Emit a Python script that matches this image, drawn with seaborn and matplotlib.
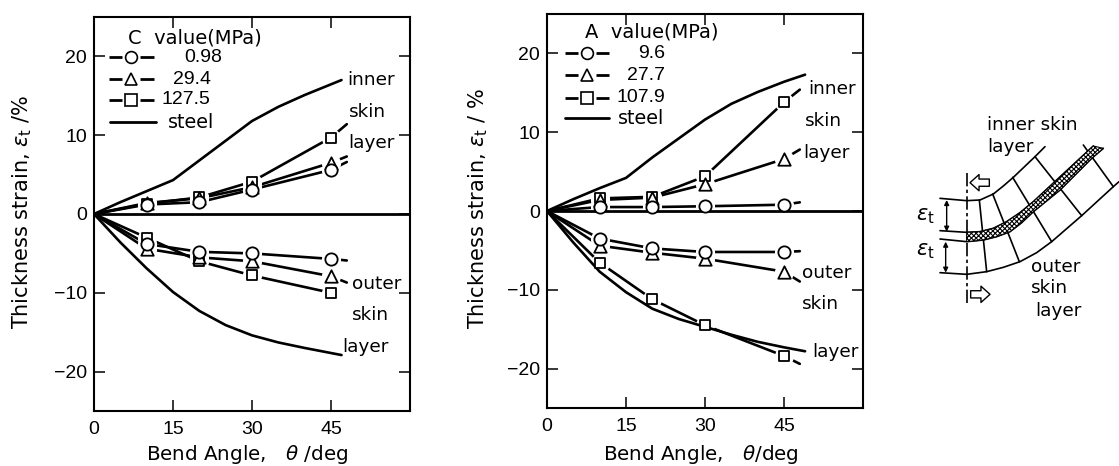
# %%
import numpy as np
import pandas as pd
import seaborn as sns
import matplotlib.pyplot as plt
from matplotlib.patches import Polygon

# %% data
angle = [0, 10, 20, 30, 45, 48]
steel_angle_l = [0, 5, 10, 15, 20, 25, 30, 35, 40, 47]
steel_inner_l = [0, 1.5, 2.9, 4.3, 6.8, 9.3, 11.8, 13.6, 15.1, 17.0]
steel_outer_l = [0, -3.6, -6.9, -9.9, -12.3, -14.1, -15.4, -16.3, -17.0, -17.9]
steel_angle_r = [0, 5, 10, 15, 20, 25, 30, 35, 40, 45, 49]
steel_inner_r = [0, 1.5, 2.9, 4.2, 6.8, 9.2, 11.6, 13.6, 15.1, 16.4, 17.3]
steel_outer_r = [0, -4.0, -7.7, -10.3, -12.4, -13.7, -14.7, -15.7, -16.6, -17.3, -17.8]

c_labels = ['0.98', '29.4', '127.5']
c_inner = [[0, 1.2, 1.5, 3.1, 5.6, 6.6],
           [0, 1.4, 2.0, 3.4, 6.5, 7.3],
           [0, 1.3, 2.1, 4.1, 9.7, 11.4]]
c_outer = [[0, -3.8, -4.8, -5.0, -5.7, -5.9],
           [0, -4.4, -5.5, -6.0, -7.9, -8.7],
           [0, -3.0, -6.0, -7.8, -10.0, np.nan]]

a_labels = ['9.6', '27.7', '107.9']
a_inner = [[0, 0.5, 0.5, 0.6, 0.8, 1.1],
           [0, 1.4, 1.7, 3.4, 6.6, 7.8],
           [0, 1.6, 1.8, 4.4, 13.8, 15.4]]
a_outer = [[0, -3.5, -4.75, -5.2, -5.2, -5.1],
           [0, -4.4, -5.3, -6.05, -7.7, -8.95],
           [0, -6.55, -11.2, -14.5, -18.4, -19.4]]

x_ticks = [0, 15, 30, 45]
y_ticks = [-20, -10, 0, 10, 20]
markers = ['o', '^', 's']
marker_area = {'o': 78, '^': 80, 's': 60}
W, H = 1119, 466


# %%
def draw_panel(ax, inner, outer, s_angle, s_inner, s_outer):
    for vals_i, vals_o in zip(inner, outer):
        for vals in (vals_i, vals_o):
            df = pd.DataFrame({'x': angle, 'y': vals})
            sns.lineplot(data=df.dropna(), x='x', y='y', color='k', lw=1.9, sort=False,
                         errorbar=None, ax=ax, zorder=2)
            sns.scatterplot(data=df.iloc[1:5], x='x', y='y', marker='o', s=190, color='white',
                            linewidth=0, ax=ax, zorder=3)
    for vals in (s_inner, s_outer):
        sns.lineplot(x=s_angle, y=vals, color='k', lw=1.9, errorbar=None, ax=ax, zorder=4)
    ax.axhline(0, color='k', lw=2, zorder=4)
    # squares first, circles end up on top as in the figure
    for i in (2, 1, 0):
        m = markers[i]
        for vals in (inner[i], outer[i]):
            pts = pd.DataFrame({'x': angle, 'y': vals}).iloc[1:5]
            sns.scatterplot(data=pts, x='x', y='y', marker=m, s=marker_area[m], facecolor='white',
                            edgecolor='k', linewidth=1.3, ax=ax, zorder=5 + (2 - i))
    ax.set_xlim(0, 60)
    ax.set_ylim(-25, 25)
    ax.set_xticks(x_ticks)
    ax.set_yticks(y_ticks)
    ax.set_xlabel('')
    ax.set_ylabel('')
    ax.tick_params(axis='x', direction='in', top=True, length=8, width=1.1, pad=7, labelsize=14)
    ax.tick_params(axis='y', direction='in', right=True, length=8, width=1.1, pad=5, labelsize=14)
    for sp in ax.spines.values():
        sp.set_visible(True)
        sp.set_linewidth(1.5)
    for lab in ax.get_xticklabels() + ax.get_yticklabels():
        lab.set_family('Liberation Sans')


def pixel_axes(fig, x0, y0, x1, y1):
    return fig.add_axes([x0 / W, 1 - y1 / H, (x1 - x0) / W, (y1 - y0) / H])


def txt(ov, x, y, s, **kw):
    kw.setdefault('fontsize', 13.3)
    kw.setdefault('va', 'center')
    ov.text(x, y, s, **kw)


def legend_keys(ov, x0, x1, x2, x3, ys, steel_x, steel_y):
    for y, m in zip(ys, markers):
        ov.plot([x0, x1], [y, y], color='k', lw=2, solid_capstyle='butt')
        ov.plot([x2, x3], [y, y], color='k', lw=2, solid_capstyle='butt')
        ov.plot([(x1 + x2) / 2], [y], marker=m, ms=8.5, mfc='white', mec='k', mew=1.2)
    ov.plot(steel_x, [steel_y, steel_y], color='k', lw=2)


def zoomed(pts):
    a = np.array(pts, dtype=float)
    return 900 + a[:, 0] / 3, 120 + a[:, 1] / 3


# %%
sns.set_style('ticks')
plt.rcParams['font.family'] = ['DejaVu Sans']
plt.rcParams['hatch.linewidth'] = 0.8
plt.rcParams['mathtext.fontset'] = 'dejavusans'
plt.rcParams['text.color'] = 'k'
plt.rcParams['axes.edgecolor'] = 'k'
plt.rcParams['xtick.color'] = 'k'
plt.rcParams['ytick.color'] = 'k'

fig = plt.figure(figsize=(W / 100, H / 100), dpi=100)
ax1 = pixel_axes(fig, 94, 17, 410, 411)
ax2 = pixel_axes(fig, 547, 14, 863, 408)
draw_panel(ax1, c_inner, c_outer, steel_angle_l, steel_inner_l, steel_outer_l)
draw_panel(ax2, a_inner, a_outer, steel_angle_r, steel_inner_r, steel_outer_r)

ov = fig.add_axes([0, 0, 1, 1], zorder=10)
ov.set_xlim(0, W)
ov.set_ylim(H, 0)
ov.axis('off')
ov.patch.set_alpha(0)

# axis labels
eps = r'$\varepsilon_{\rm t}$'
txt(ov, 22, 212, 'Thickness strain, ' + eps + ' /%', rotation=90, ha='center', fontsize=15)
txt(ov, 478, 208, 'Thickness strain, ' + eps + ' / %', rotation=90, ha='center', fontsize=15)
txt(ov, 247, 454, r'Bend Angle,   $\theta$ /deg', ha='center', fontsize=14.3)
txt(ov, 701, 454, r'Bend Angle,   $\theta$/deg', ha='center', fontsize=14.3)

# legends
txt(ov, 128, 38, 'C  value(MPa)', fontsize=14)
txt(ov, 585, 32, 'A  value(MPa)', fontsize=14)
legend_keys(ov, 109, 122, 140, 154, [57, 79, 100], [110, 156], 122)
legend_keys(ov, 565, 578, 596, 609, [53, 75, 98], [565, 609], 118)
for y, s, xr in zip([57, 79, 100], c_labels, [222, 211, 210]):
    txt(ov, xr, y, s, ha='right', family='Liberation Sans', fontsize=14)
for y, s in zip([53, 75, 98], a_labels):
    txt(ov, 665, y, s, ha='right', family='Liberation Sans', fontsize=14)
txt(ov, 168, 122, 'steel', fontsize=13.8)
txt(ov, 618, 118, 'steel', fontsize=13.8)

# curve labels
for x, y, s in [(347, 80, 'inner'), (349, 112, 'skin'), (348, 143, 'layer'),
                (352, 284, 'outer'), (352, 315, 'skin'), (342, 347, 'layer'),
                (808, 89, 'inner'), (805, 121, 'skin'), (803, 153, 'layer'),
                (802, 273, 'outer'), (802, 304, 'skin'), (812, 352, 'layer')]:
    txt(ov, x, y, s)

# %% bent sheet schematic
outer_top = [(120, 235), (200, 242), (240, 240), (280, 222), (310, 198), (340, 172), (405, 110), (435, 80)]
mid_upper = [(120, 332), (200, 337), (240, 335), (280, 325), (320, 305), (360, 278), (400, 245),
             (470, 180), (580, 78)]
mid_lower = [(120, 357), (200, 365), (250, 360), (290, 350), (330, 335), (365, 308), (400, 275),
             (480, 210), (575, 115), (610, 85)]
outer_bot = [(120, 458), (200, 463), (260, 455), (310, 442), (360, 425), (410, 398), (455, 365),
             (545, 287), (640, 200), (657, 185)]
cross = [[(238, 240), (260, 455)], [(278, 222), (358, 425)], [(338, 172), (455, 365)],
         [(405, 110), (545, 287)], [(550, 75), (640, 200)]]

for curve in (outer_top, mid_upper, mid_lower, outer_bot):
    ov.plot(*zoomed(curve), color='k', lw=1.2)
for seg in cross:
    ov.plot(*zoomed(seg), color='k', lw=1.2)
bx1, by1 = zoomed(mid_upper[1:])
bx2, by2 = zoomed(mid_lower[1:])
band = np.column_stack([np.r_[bx1, bx2[::-1]], np.r_[by1, by2[::-1]]])
ov.add_patch(Polygon(band, facecolor='white', edgecolor='k', hatch='xxxxxxx', lw=0.8, zorder=3))

ov.plot(*zoomed([(200, 160), (200, 548)]), color='k', lw=1.2, ls=(0, (8, 2, 2, 2)), zorder=4)
for a, b in [((140, 240), (140, 335)), ((137, 365), (137, 458))]:
    xs, ys = zoomed([a, b])
    ov.annotate('', xy=(xs[0], ys[0]), xytext=(xs[1], ys[1]),
                arrowprops=dict(arrowstyle='<|-|>', color='k', lw=1, mutation_scale=7,
                                shrinkA=0, shrinkB=0))
for a, b in [((210, 188), (268, 188)), ((270, 523), (212, 523))]:
    xs, ys = zoomed([a, b])
    ov.annotate('', xy=(xs[0], ys[0]), xytext=(xs[1], ys[1]),
                arrowprops=dict(arrowstyle='simple,head_length=0.5,head_width=0.9,tail_width=0.4',
                                fc='white', ec='k', lw=1, mutation_scale=13,
                                shrinkA=0, shrinkB=0))
txt(ov, 916, 216, eps, fontsize=15)
txt(ov, 916, 251, eps, fontsize=15)
txt(ov, 987, 125, 'inner skin')
txt(ov, 987, 147, 'layer')
txt(ov, 1031, 267, 'outer')
txt(ov, 1031, 288, 'skin')
txt(ov, 1035, 311, 'layer')

fig.savefig('out.png', dpi=100)
